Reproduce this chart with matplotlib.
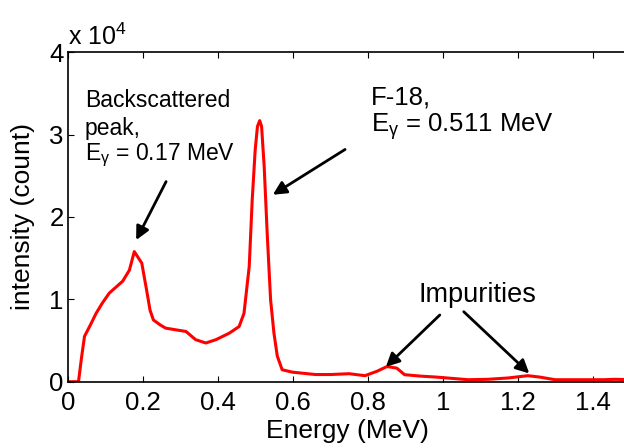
import matplotlib

matplotlib.use('Agg')
import matplotlib.pyplot as plt

plt.rcParams['font.family'] = ['Liberation Sans', 'DejaVu Sans']
plt.rcParams['mathtext.fontset'] = 'custom'
plt.rcParams['mathtext.rm'] = 'Liberation Sans'
plt.rcParams['mathtext.it'] = 'Liberation Sans'

# spectrum (energy in MeV, counts in units of 10^4)
energy = [0, 0.027, 0.035, 0.043, 0.06, 0.074, 0.09, 0.109, 0.13, 0.145,
          0.163, 0.176, 0.196, 0.209, 0.218, 0.227, 0.245, 0.26, 0.287, 0.314,
          0.34, 0.367, 0.394, 0.43, 0.456, 0.469, 0.483, 0.491, 0.499, 0.505,
          0.511, 0.516, 0.523, 0.531, 0.54, 0.549, 0.558, 0.571, 0.598, 0.66,
          0.70, 0.75, 0.792, 0.824, 0.851, 0.877, 0.898, 0.94, 0.983, 1.068,
          1.12, 1.174, 1.227, 1.259, 1.30, 1.43, 1.46, 1.5]
counts = [0, 0, 0.29, 0.55, 0.70, 0.83, 0.95, 1.075, 1.16, 1.22,
          1.355, 1.58, 1.44, 1.11, 0.87, 0.75, 0.69, 0.65, 0.63, 0.61,
          0.51, 0.47, 0.51, 0.59, 0.67, 0.83, 1.40, 2.21, 2.82, 3.10,
          3.17, 3.10, 2.61, 1.80, 1.00, 0.59, 0.31, 0.145, 0.116, 0.087,
          0.087, 0.097, 0.073, 0.126, 0.184, 0.165, 0.085, 0.068, 0.056, 0.024,
          0.029, 0.045, 0.073, 0.056, 0.024, 0.024, 0.029, 0.024]

xticks = [0, 0.2, 0.4, 0.6, 0.8, 1.0, 1.2, 1.4]
xtick_labels = ['0', '0.2', '0.4', '0.6', '0.8', '1', '1.2', '1.4']
yticks = [0, 1, 2, 3, 4]

fig = plt.figure(figsize=(6.24, 4.48), dpi=100)
ax = fig.add_axes([0.1096, 0.148, 0.9, 0.7353])

ax.plot(energy, counts, color='red', lw=2.2)

ax.set_xlim(0, 1.5)
ax.set_ylim(0, 4)
ax.set_xticks(xticks)
ax.set_xticklabels(xtick_labels)
ax.set_yticks(yticks)
ax.tick_params(direction='in', length=4, width=0.8, top=True, right=True,
               labelsize=18.5)
ax.tick_params(axis='x', pad=7)
ax.tick_params(axis='y', pad=3.5)
for s in ax.spines.values():
    s.set_linewidth(1.2)

ax.set_xlabel('Energy (MeV)', fontsize=19, va='center')
ax.xaxis.set_label_coords(0.496, -0.15)
ax.set_ylabel('intensity (count)', fontsize=19, va='center')
ax.yaxis.set_label_coords(-0.081, 0.5)

ax.text(0.0, 1.022, r'x 10$^{4}$', transform=ax.transAxes, fontsize=18,
        ha='left', va='baseline')

# annotations
ax.text(0.044, 3.34, 'Backscattered', fontsize=16.5, va='baseline')
ax.text(0.044, 2.996, 'peak,', fontsize=16.5, va='baseline')
ax.text(0.044, 2.692, r'E$_{\gamma}$ = 0.17 MeV', fontsize=16.5, va='baseline')
ax.text(0.807, 3.36, 'F-18,', fontsize=18.5, va='baseline')
ax.text(0.807, 3.04, r'E$_{\gamma}$ = 0.511 MeV', fontsize=18.5, va='baseline')
ax.text(1.093, 0.971, 'Impurities', fontsize=19.5, ha='center', va='baseline')

arrow = dict(arrowstyle='-|>', color='black', lw=2, mutation_scale=20,
             shrinkA=0, shrinkB=0)
ax.annotate('', xy=(0.181, 1.72), xytext=(0.261, 2.43), arrowprops=arrow)
ax.annotate('', xy=(0.546, 2.27), xytext=(0.739, 2.82), arrowprops=arrow)
ax.annotate('', xy=(0.848, 0.18), xytext=(0.992, 0.81), arrowprops=arrow)
ax.annotate('', xy=(1.231, 0.10), xytext=(1.056, 0.85), arrowprops=arrow)

fig.savefig('out.png', dpi=100)
